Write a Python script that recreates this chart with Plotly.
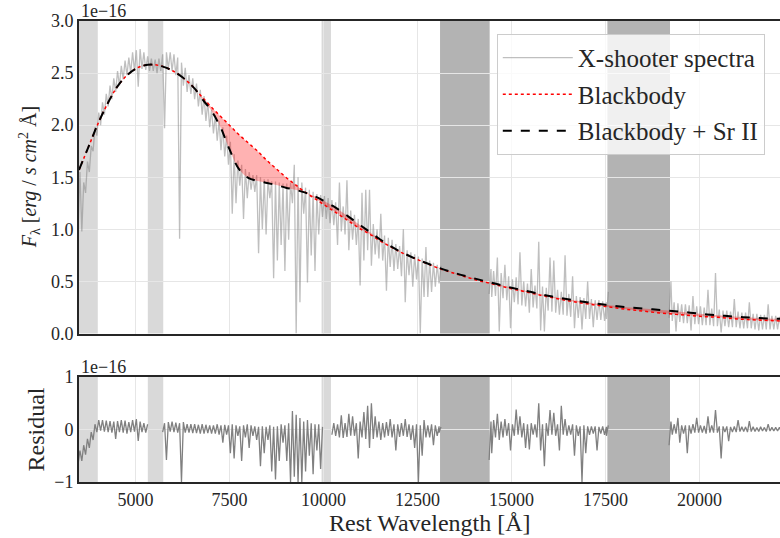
import plotly.graph_objects as go

# ---------------- data (flux in units of 1e-16 erg / s / cm^2 / A) ----------------
# smooth model curves
model_wl = [3500, 3750, 4000, 4250, 4500, 4750, 5000, 5250, 5500, 5750, 6000, 6250, 6500,
            6650, 6800, 7000, 7250, 7500, 7750, 8000, 8250, 8500, 8750, 9000, 9250, 9500,
            9750, 10000, 10250, 10500, 10750, 11000, 11250, 11500, 11750, 12000, 12500,
            13000, 13500, 14000, 14500, 15000, 15500, 16000, 16500, 17000, 17500, 18000,
            18500, 19000, 19500, 20000, 20500, 21000, 21500, 22200]
blackbody = [1.57, 1.79, 2.01, 2.20, 2.36, 2.47, 2.54, 2.575, 2.58, 2.56, 2.52, 2.46, 2.38,
             2.32, 2.26, 2.18, 2.09, 2.00, 1.91, 1.83, 1.75, 1.66, 1.58, 1.50, 1.43, 1.36,
             1.30, 1.24, 1.18, 1.12, 1.06, 1.00, 0.95, 0.89, 0.84, 0.79, 0.71,
             0.635, 0.575, 0.52, 0.475, 0.43, 0.39, 0.35, 0.315, 0.285, 0.26, 0.235,
             0.215, 0.195, 0.18, 0.165, 0.155, 0.14, 0.13, 0.12]
bb_srii = [1.57, 1.79, 2.01, 2.20, 2.36, 2.47, 2.54, 2.575, 2.58, 2.56, 2.52, 2.46, 2.38,
           2.32, 2.24, 2.15, 1.99, 1.77, 1.58, 1.495, 1.465, 1.445, 1.425, 1.40, 1.38, 1.355,
           1.32, 1.275, 1.225, 1.165, 1.10, 1.035, 0.97, 0.905, 0.845, 0.795, 0.71,
           0.64, 0.58, 0.53, 0.485, 0.44, 0.40, 0.36, 0.33, 0.30, 0.275, 0.255,
           0.24, 0.225, 0.21, 0.19, 0.175, 0.16, 0.15, 0.14]

# X-shooter spectrum: min / max flux in 100 A bins, three segments (telluric bands removed)
spec1_wl = list(range(3500, 13101, 100))
spec1_lo = [1.00, 0.98, 1.35, 1.55, 1.75, 1.90, 2.00, 2.10, 2.18, 2.25, 2.32, 2.38, 2.44, 2.48,
            2.50, 2.52, 2.37, 2.54, 2.53, 2.52, 2.52, 2.50, 2.52, 1.97, 2.54, 2.52, 2.48, 0.91,
            2.38, 2.32, 2.30, 2.25, 2.18, 2.10, 2.04, 1.98, 1.92, 1.85, 1.76, 1.70, 1.62, 1.15,
            1.25, 1.42, 1.10, 1.30, 1.38, 1.36, 0.77, 1.00, 0.95, 1.30, 0.53, 0.70, 0.85, 0.60,
            0.90, 1.25, 0.00, 0.30, 1.15, 0.49, 0.75, 0.60, 0.95, 1.12, 1.10, 1.06, 1.04, 0.85,
            0.98, 0.95, 0.80, 0.90, 0.85, 0.46, 0.70, 0.80, 0.65, 0.76, 0.72, 0.70, 0.41, 0.64,
            0.60, 0.62, 0.55, 0.30, 0.56, 0.45, 0.52, 0.00, 0.35, 0.35, 0.40, 0.45, 0.48]
spec1_hi = [1.55, 1.45, 1.65, 1.80, 1.98, 2.12, 2.22, 2.30, 2.38, 2.45, 2.52, 2.57, 2.62, 2.65,
            2.70, 2.72, 2.73, 2.70, 2.66, 2.64, 2.63, 2.64, 2.68, 2.70, 2.70, 2.68, 2.65, 2.60,
            2.55, 2.48, 2.45, 2.40, 2.34, 2.28, 2.22, 2.15, 2.10, 2.04, 1.98, 1.90, 1.84, 1.72,
            1.66, 1.62, 1.58, 1.55, 1.52, 1.52, 1.50, 1.48, 1.48, 1.46, 1.46, 1.45, 1.44, 1.44,
            1.45, 1.62, 1.50, 1.45, 1.40, 1.38, 1.36, 1.34, 1.33, 1.32, 1.30, 1.28, 1.26, 1.45,
            1.22, 1.47, 1.18, 1.14, 1.10, 1.35, 1.38, 1.38, 1.05, 1.00, 1.15, 0.94, 0.92, 0.90,
            0.86, 0.84, 1.00, 0.80, 0.78, 0.76, 0.74, 0.72, 0.83, 0.70, 0.68, 0.66, 0.65]

spec2_wl = [14430] + list(range(14500, 17501, 100)) + [17550]
spec2_lo = [0.38, 0.35, 0.36, 0.02, 0.34, 0.32, 0.05, 0.30, 0.28, 0.27, 0.26, 0.20, 0.25, 0.24,
            0.03, 0.02, 0.22, 0.21, 0.20, 0.18, 0.18, 0.17, 0.16, 0.05, 0.15, 0.04, 0.14, 0.14,
            0.06, 0.13, 0.13, 0.12, 0.14]
spec2_hi = [0.62, 0.60, 0.73, 0.58, 0.66, 0.55, 0.52, 0.54, 0.78, 0.50, 0.48, 0.62, 0.46, 0.88,
            0.45, 0.44, 0.73, 0.70, 0.42, 0.40, 0.75, 0.38, 0.55, 0.36, 0.35, 0.34, 0.50, 0.33,
            0.32, 0.32, 0.31, 0.30, 0.40]

spec3_wl = [19215] + list(range(19300, 22201, 100))
spec3_lo = [0.15, 0.12, 0.02, 0.11, 0.10, 0.10, 0.03, 0.09, 0.09, 0.08, 0.08, 0.08, 0.07, 0.07,
            0.01, 0.07, 0.06, 0.06, 0.06, 0.05, 0.05, 0.05, 0.05, 0.04, 0.03, 0.04, 0.04, 0.04,
            0.04, 0.04, 0.04]
spec3_hi = [0.50, 0.30, 0.29, 0.28, 0.28, 0.27, 0.36, 0.26, 0.26, 0.25, 0.42, 0.24, 0.58, 0.23,
            0.22, 0.22, 0.21, 0.33, 0.21, 0.20, 0.20, 0.30, 0.19, 0.19, 0.18, 0.18, 0.28, 0.17,
            0.17, 0.16, 0.16]

# residuals (data - model): min / max in 100 A bins, masked regions removed
res1_wl = list(range(3500, 5301, 100))
res1_lo = [-0.66, -0.60, -0.48, -0.35, -0.20, -0.05, -0.02, -0.04, -0.05, -0.06, -0.18, -0.05,
           -0.06, -0.08, -0.05, -0.04, -0.22, -0.05, -0.06]
res1_hi = [-0.40, -0.30, -0.18, -0.05, 0.10, 0.18, 0.18, 0.17, 0.16, 0.15, 0.16, 0.18,
           0.17, 0.14, 0.18, 0.20, 0.15, 0.12, 0.10]

res2_wl = list(range(5750, 9951, 100))
res2_lo = [-0.05, -0.58, -0.04, -0.05, -0.06, -1.00, -0.06, -0.06, -0.07, -0.07, -0.08, -0.08,
           -0.07, -0.08, -0.08, -0.10, -0.25, -0.10, -0.45, -0.55, -0.12, -0.60, -0.15, -0.35,
           -0.12, -0.20, -0.70, -0.45, -0.20, -0.80, -0.95, -0.60, -0.25, -0.60, -1.00, -0.90,
           -1.00, -1.00, -0.80, -0.50, -0.85, -0.40, -0.75]
res2_hi = [0.12, 0.14, 0.15, 0.13, 0.12, 0.14, 0.10, 0.10, 0.10, 0.09, 0.10, 0.09,
           0.08, 0.08, 0.10, 0.08, 0.09, 0.08, 0.10, 0.08, 0.06, 0.08, 0.10, 0.08,
           0.06, 0.05, 0.06, 0.05, 0.08, 0.05, 0.06, 0.10, 0.08, 0.12, 0.35, 0.28,
           0.22, 0.15, 0.18, 0.12, 0.10, 0.10, 0.05]

res3_wl = list(range(10250, 13051, 100)) + [13100]
res3_lo = [-0.10, -0.12, -0.15, -0.16, -0.14, -0.12, -0.12, -0.55, -0.15, -0.18, -0.35, -0.18,
           -0.15, -0.20, -0.15, -0.12, -0.15, -0.40, -0.14, -0.12, -0.14, -0.20, -0.35, -1.00,
           -0.50, -0.15, -0.15, -0.30, -0.12, -0.06]
res3_hi = [0.12, 0.10, 0.27, 0.12, 0.30, 0.25, 0.12, 0.15, 0.33, 0.45, 0.50, 0.25,
           0.15, 0.12, 0.14, 0.20, 0.10, 0.10, 0.12, 0.20, 0.10, 0.08, 0.10, 0.08,
           0.18, 0.08, 0.10, 0.08, 0.06, 0.05]

res4_wl = [14430] + list(range(14500, 17501, 100)) + [17550]
res4_lo = [-0.58, -0.45, -0.15, -0.20, -0.15, -0.12, -0.40, -0.12, -0.10, -0.15, -0.35, -0.38,
           -0.10, -0.15, -0.40, -0.70, -0.12, -0.10, -0.12, -0.40, -0.10, -0.12, -0.10, -0.50,
           -0.12, -1.00, -0.45, -0.10, -0.08, -0.40, -0.08, -0.10, -0.12]
res4_hi = [0.15, 0.18, 0.30, 0.15, 0.20, 0.12, 0.10, 0.38, 0.25, 0.12, 0.10, 0.12,
           0.10, 0.50, 0.10, 0.12, 0.37, 0.32, 0.10, 0.45, 0.20, 0.08, 0.10, 0.08,
           0.06, 0.08, 0.06, 0.06, 0.06, 0.05, 0.06, 0.05, 0.08]

res5_wl = [19215] + list(range(19300, 22201, 100))
res5_lo = [-0.30, -0.10, -0.08, -0.25, -0.08, -0.45, -0.08, -0.06, -0.06, -0.06, -0.08, -0.06,
           -0.06, -0.06, -0.55, -0.05, -0.22, -0.05, -0.05, -0.04, -0.04, -0.05, -0.04, -0.04,
           -0.04, -0.03, -0.04, -0.03, -0.03, -0.03, -0.03]
res5_hi = [0.15, 0.10, 0.22, 0.08, 0.08, 0.08, 0.10, 0.22, 0.08, 0.07, 0.25, 0.08,
           0.37, 0.06, 0.06, 0.06, 0.05, 0.06, 0.18, 0.05, 0.05, 0.16, 0.05, 0.04,
           0.05, 0.04, 0.10, 0.04, 0.04, 0.04, 0.03]

# masked regions (A): light = detector gaps, dark = telluric bands
light_bands = [(3500, 4000), (5330, 5740), (9950, 10200)]
dark_bands = [(13100, 14420), (17550, 19215)]

x_ticks = [5000, 7500, 10000, 12500, 15000, 17500, 20000]
x_range = [3500, 22140]


# ---------------- helpers ----------------
def minmax_path(wl, lo, hi):
    """Zig-zag through each 100 A bin: its minimum in the first half, maximum in the second."""
    assert len(wl) == len(lo) == len(hi)
    xs, ys = [], []
    for w, a, b in zip(wl, lo, hi):
        xs += [w - 25, w + 25]
        ys += [a, b]
    return xs, ys


def join(segments):
    xs, ys = [], []
    for i, (w, f) in enumerate(segments):
        if i:
            xs.append(None)
            ys.append(None)
        xs += w
        ys += f
    return xs, ys


spec_x, spec_y = join([minmax_path(spec1_wl, spec1_lo, spec1_hi),
                       minmax_path(spec2_wl, spec2_lo, spec2_hi),
                       minmax_path(spec3_wl, spec3_lo, spec3_hi)])
res_x, res_y = join([minmax_path(res1_wl, res1_lo, res1_hi),
                     minmax_path(res2_wl, res2_lo, res2_hi),
                     minmax_path(res3_wl, res3_lo, res3_hi),
                     minmax_path(res4_wl, res4_lo, res4_hi),
                     minmax_path(res5_wl, res5_lo, res5_hi)])

FONT = "Liberation Serif, Times New Roman, serif"
TXT = "#262626"
GRID = "#e6e6e6"
SPINE = "#262626"

fig = go.Figure()
fig.add_trace(go.Scatter(x=spec_x, y=spec_y, mode="lines", name="X-shooter spectra",
                         line=dict(color="rgba(128,128,128,0.5)", width=1.3),
                         xaxis="x", yaxis="y", legendgroup="a"))
fig.add_trace(go.Scatter(x=model_wl, y=blackbody, mode="lines", name="Blackbody",
                         line=dict(color="red", width=1.5, dash="dot", shape="spline"),
                         xaxis="x", yaxis="y", legendgroup="b"))
fig.add_trace(go.Scatter(x=model_wl, y=bb_srii, mode="lines", showlegend=False,
                         line=dict(width=0, shape="spline"), fill="tonexty",
                         fillcolor="rgba(255,0,0,0.3)", hoverinfo="skip",
                         xaxis="x", yaxis="y"))
fig.add_trace(go.Scatter(x=model_wl, y=bb_srii, mode="lines", name="Blackbody + Sr II",
                         line=dict(color="black", width=2, dash="dash", shape="spline"),
                         xaxis="x", yaxis="y", legendgroup="c"))
fig.add_trace(go.Scatter(x=res_x, y=res_y, mode="lines", showlegend=False,
                         line=dict(color="#808080", width=1.3),
                         xaxis="x2", yaxis="y2"))

shapes = []
for bands, col in ((light_bands, "rgba(128,128,128,0.3)"), (dark_bands, "rgba(128,128,128,0.6)")):
    for a, b in bands:
        for xr, yr in (("x", "y domain"), ("x2", "y2 domain")):
            shapes.append(dict(type="rect", xref=xr, yref=yr, x0=a, x1=b, y0=0, y1=1,
                               fillcolor=col, line=dict(width=0), layer="below"))

axis_common = dict(showgrid=True, gridcolor=GRID, gridwidth=1, zeroline=False,
                   showline=True, linecolor=SPINE, linewidth=2, ticks="",
                   tickfont=dict(family=FONT, size=18, color=TXT))

top_dom = [0.3221, 1.0]
bot_dom = [0.0, 0.2278]

fig.update_layout(
    width=780, height=538,
    margin=dict(l=79, r=0, t=21, b=56),
    paper_bgcolor="white", plot_bgcolor="white",
    font=dict(family=FONT, color=TXT),
    showlegend=True,
    legend=dict(x=0.596, y=0.972, xanchor="left", yanchor="top",
                bgcolor="rgba(255,255,255,0.8)", bordercolor="#cccccc", borderwidth=1,
                font=dict(family=FONT, size=25, color=TXT), tracegroupgap=1,
                traceorder="grouped", itemwidth=70),
    xaxis=dict(domain=[0, 1], range=x_range, anchor="y", tickvals=x_ticks,
               showticklabels=False, mirror=True, **axis_common),
    yaxis=dict(domain=top_dom, range=[0, 3.0], anchor="x", dtick=0.5, tickformat=".1f",
               mirror=False, **axis_common),
    xaxis2=dict(domain=[0, 1], range=x_range, anchor="y2", tickvals=x_ticks,
                ticktext=[str(v) for v in x_ticks], mirror=True, **axis_common),
    yaxis2=dict(domain=bot_dom, range=[-1, 1], anchor="x2", tickvals=[-1, 0, 1],
                mirror=False, **axis_common),
    shapes=shapes,
    annotations=[
        dict(text="1e\u221216", xref="paper", yref="paper", x=0, y=1.0, xanchor="left",
             yanchor="bottom", showarrow=False, font=dict(family=FONT, size=18, color=TXT),
             yshift=-2),
        dict(text="1e\u221216", xref="paper", yref="paper", x=0, y=bot_dom[1], xanchor="left",
             yanchor="bottom", showarrow=False, font=dict(family=FONT, size=18, color=TXT),
             yshift=-2),
        dict(text="<i>F</i><sub>\u03bb</sub> [<i>erg</i> / <i>s cm</i><sup>2</sup> \u00c5]",
             xref="paper", yref="paper", x=0, y=(top_dom[0] + top_dom[1]) / 2,
             xanchor="center", yanchor="middle", xshift=-49, textangle=-90, showarrow=False,
             font=dict(family=FONT, size=20, color=TXT)),
        dict(text="Residual", xref="paper", yref="paper", x=0, y=(bot_dom[0] + bot_dom[1]) / 2,
             xanchor="center", yanchor="middle", xshift=-43, textangle=-90, showarrow=False,
             font=dict(family=FONT, size=24, color=TXT)),
        dict(text="Rest Wavelength [\u00c5]", xref="paper", yref="paper", x=0.5, y=0,
             xanchor="center", yanchor="middle", yshift=-41, showarrow=False,
             font=dict(family=FONT, size=24, color=TXT)),
    ],
)

fig.write_html("out.html")
